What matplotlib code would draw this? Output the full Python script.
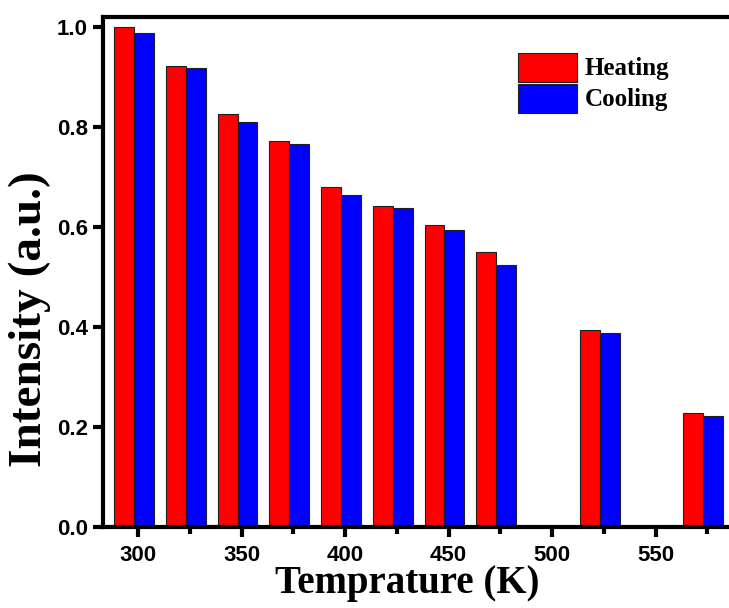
import numpy as np
import matplotlib.pyplot as plt

temps = [298, 323, 348, 373, 398, 423, 448, 473, 523, 573]
heating = [1.000, 0.922, 0.826, 0.772, 0.680, 0.642, 0.604, 0.551, 0.394, 0.228]
cooling = [0.988, 0.918, 0.810, 0.766, 0.664, 0.638, 0.594, 0.524, 0.388, 0.222]
xticks = [300, 350, 400, 450, 500, 550]
yticks = [0.0, 0.2, 0.4, 0.6, 0.8, 1.0]

w = 9.6
fig = plt.figure(figsize=(7.29, 6.08), dpi=100)
ax = fig.add_axes([103 / 729, 1 - 527 / 608, 1 - 103 / 729, 510 / 608])

x = np.array(temps)
ax.bar(x - w / 2, heating, width=w, color="#ff0000", edgecolor="#202020",
       linewidth=0.8, label="Heating")
ax.bar(x + w / 2, cooling, width=w, color="#0000ff", edgecolor="#202020",
       linewidth=0.8, label="Cooling")

ax.set_xlim(283, 585.5)
ax.set_ylim(0, 1.02)
ax.set_xticks(xticks)
ax.set_xticks(np.arange(325, 585, 50), minor=True)
ax.set_yticks(yticks)
ax.set_yticklabels([f"{v:.1f}" for v in yticks])

for s in ["left", "bottom", "top"]:
    ax.spines[s].set_linewidth(3)
ax.spines["right"].set_visible(False)

ax.tick_params(axis="both", which="major", direction="out", length=7, width=3,
               labelsize=16, pad=4)
ax.tick_params(axis="x", which="major", pad=6)
ax.tick_params(axis="x", which="minor", direction="out", length=5, width=3)
for lab in ax.get_xticklabels() + ax.get_yticklabels():
    lab.set_fontfamily("Liberation Sans")
    lab.set_fontweight("bold")

ax.set_xlabel("Temprature (K)", fontfamily="Liberation Serif", fontweight="bold",
              fontsize=28, labelpad=0)
ax.set_ylabel("Intensity (a.u.)", fontfamily="Liberation Serif", fontweight="bold",
              fontsize=34)
ax.yaxis.set_label_coords(-(103 - 30) / 626, (527 - 319) / 510)
ax.xaxis.set_label_coords((407 - 103) / 626, -(584 - 527) / 510)
ax.xaxis.label.set_va("center")
ax.yaxis.label.set_va("center")

leg = ax.legend(loc="upper left", bbox_to_anchor=(518 / 729, 1 - 54 / 608),
                bbox_transform=fig.transFigure, frameon=False,
                prop={"family": "Liberation Serif", "weight": "bold", "size": 18},
                handlelength=2.36, handleheight=1.16, handletextpad=0.3,
                labelspacing=0.2, borderaxespad=0, borderpad=0)
for h in leg.legend_handles:
    h.set_height(h.get_height() * 1.15)
    h.set_y(h.get_y() - 2)

fig.savefig("out.png", dpi=100)
